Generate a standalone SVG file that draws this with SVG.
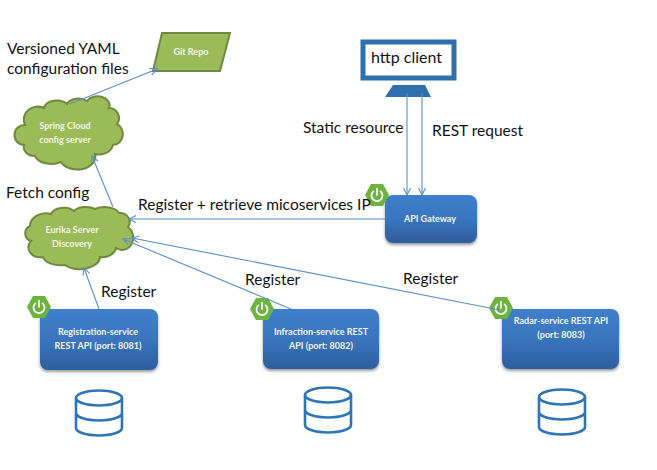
<svg xmlns="http://www.w3.org/2000/svg" xmlns:xlink="http://www.w3.org/1999/xlink" width="657" height="470" viewBox="0 0 657 470">
<style>
text{font-family:"Lato","Liberation Sans",sans-serif}
.lbl{font-size:15.5px;fill:#111}
.wt{font-size:9px;font-weight:700;fill:#f2f6ea;text-anchor:middle}
.box{fill:url(#blue);filter:url(#sh)}
.cloud{fill:#9bbb59;stroke:#71893f;stroke-width:2}
.con{fill:none;stroke:#5b8fc9;stroke-width:1.1}
.db{fill:none;stroke:#2e75b6;stroke-width:2.6}
.hex{fill:#6db33f}
.pw{fill:none;stroke:#fff;stroke-width:1.7;stroke-linecap:round}
</style>
<defs>
<linearGradient id="blue" x1="0" y1="0" x2="0" y2="1"><stop offset="0" stop-color="#3f7fcd"/><stop offset="0.5" stop-color="#3a75bd"/><stop offset="1" stop-color="#2d5e9e"/></linearGradient>
<filter id="sh" x="-10%" y="-10%" width="120%" height="125%"><feDropShadow dx="0" dy="2" stdDeviation="1.5" flood-color="#000" flood-opacity="0.4"/></filter>
<marker id="arr" markerWidth="9" markerHeight="9" refX="8" refY="4" orient="auto" markerUnits="userSpaceOnUse"><path d="M1,0.5 L8,4 L1,7.5" fill="none" stroke="#5b8fc9" stroke-width="1.1"/></marker>
<g id="badge"><polygon class="hex" points="-12,0 -6,-11 6,-11 12,0 6,11 -6,11"/><path class="pw" d="M-3.6,-3.6 A5.5,5.5 0 1 0 3.6,-3.6 M0,-6.5 V0"/></g>
<g id="dbi"><ellipse class="db" cx="0" cy="8" rx="23" ry="7.5"/><path class="db" d="M-23,8 V38 A23,7.5 0 0 0 23,38 V8 M-23,23 A23,7.5 0 0 0 23,23"/></g>
</defs>
<g id="git-repo"><polygon points="162,33 230,33 220,71 153,71" fill="#9bbb59" stroke="#71893f" stroke-width="2"/><text class="wt" x="191" y="55">Git Repo</text></g>
<g id="spring-cloud"><path class="cloud" transform="translate(-1,0)" d="M25,145 A9,9 0 0 1 26,125 A14,13 0 0 1 45,108 A13,9 0 0 1 68,104 A12,8 0 0 1 88,101 A12,9 0 0 1 110,108 A10,10 0 0 1 118,124 A10,11 0 0 1 114,145 A14,12 0 0 1 96,154 A18,13 0 0 1 62,162 A17,11 0 0 1 36,156 A11,9 0 0 1 25,145 Z"/><text class="wt" x="65" y="129">Spring Cloud</text><text class="wt" x="65" y="143">config server</text></g>
<g id="eureka"><path class="cloud" transform="translate(-1,0)" d="M32,241 A8,8 0 0 1 31,226 A16,13 0 0 1 52,214 A13,8 0 0 1 75,211 A13,7 0 0 1 96,209 A15,8 0 0 1 120,213 A10,9 0 0 1 129,227 A9,10 0 0 1 117,248 A14,11 0 0 1 101,257 A20,12 0 0 1 66,265 A18,10 0 0 1 44,257 A12,10 0 0 1 32,241 Z"/><text class="wt" x="72" y="233">Eurika Server</text><text class="wt" x="72" y="247">Discovery</text></g>
<g id="http-client"><rect x="363" y="42" width="91" height="36" fill="#fff" stroke="#2e6fad" stroke-width="5"/><polygon points="393,85 425,85 431,97 385,97" fill="#2e6fad"/><text class="lbl" x="371" y="63" style="font-size:16px">http client</text></g>
<g id="api-gateway"><rect class="box" x="385" y="195" width="92" height="48" rx="8"/><use xlink:href="#badge" href="#badge" x="377" y="195"/><text class="wt" x="430" y="222">API Gateway</text></g>
<g id="registration"><rect class="box" x="40" y="309" width="118" height="61" rx="8"/><use xlink:href="#badge" href="#badge" x="39" y="307"/><text class="wt" x="98" y="335">Registration-service</text><text class="wt" x="98" y="349">REST API (port: 8081)</text></g>
<g id="infraction"><rect class="box" x="263" y="309" width="116" height="60" rx="8"/><use xlink:href="#badge" href="#badge" x="262" y="309"/><text class="wt" x="321" y="335">Infraction-service  REST</text><text class="wt" x="321" y="349">API (port: 8082)</text></g>
<g id="radar"><rect class="box" x="502" y="309" width="117" height="60" rx="8"/><use xlink:href="#badge" href="#badge" x="501" y="308"/><text class="wt" x="561" y="324">Radar-service REST API</text><text class="wt" x="561" y="338">(port: 8083)</text></g>
<g id="db1"><use xlink:href="#dbi" href="#dbi" x="99" y="390"/></g>
<g id="db2"><use xlink:href="#dbi" href="#dbi" x="328" y="387"/></g>
<g id="db3"><use xlink:href="#dbi" href="#dbi" x="562" y="389"/></g>
<g id="connectors">
<path class="con" marker-end="url(#arr)" d="M70,104 L157,69"/>
<path class="con" marker-end="url(#arr)" d="M113,207 L92,156"/>
<path class="con" marker-end="url(#arr)" d="M385,219 L129,219"/>
<path class="con" marker-end="url(#arr)" d="M99,309 L84,268"/>
<path class="con" marker-end="url(#arr)" d="M291,309 L123,239"/>
<path class="con" marker-end="url(#arr)" d="M500,310 L132,238"/>
<path class="con" marker-end="url(#arr)" d="M407,93 V195"/>
<path class="con" marker-end="url(#arr)" d="M422,93 V195"/>
</g>
<g id="labels">
<text class="lbl" x="7" y="54">Versioned YAML</text>
<text class="lbl" x="7" y="74">configuration files</text>
<text class="lbl" x="6" y="198">Fetch config</text>
<text class="lbl" x="138" y="210">Register + retrieve micoservices IP</text>
<text class="lbl" x="303" y="133">Static resource</text>
<text class="lbl" x="432" y="136">REST request</text>
<text class="lbl" x="101" y="297">Register</text>
<text class="lbl" x="245" y="285">Register</text>
<text class="lbl" x="403" y="284">Register</text>
</g>
</svg>
